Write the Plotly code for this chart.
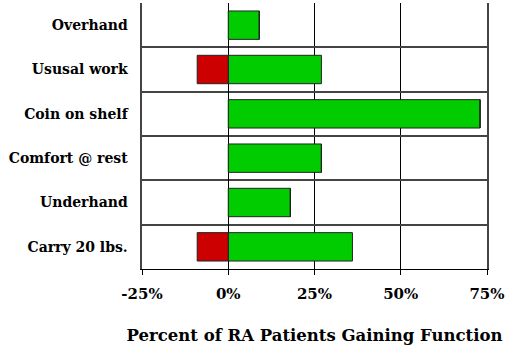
import plotly.graph_objects as go

categories = ["Overhand", "Ususal work", "Coin on shelf", "Comfort @ rest", "Underhand", "Carry 20 lbs."]
gain = [9, 27, 73, 27, 18, 36]
loss = [0, -9, 0, 0, 0, -9]
tick_vals = [-25, 0, 25, 50, 75]
tick_text = ["-25%", "0%", "25%", "50%", "75%"]

font_fam = "DejaVu Serif"

fig = go.Figure()
fig.add_trace(go.Bar(y=categories, x=gain, orientation="h", width=0.64,
                     marker=dict(color="#00CC00", line=dict(color="#222222", width=1))))
fig.add_trace(go.Bar(y=categories, x=loss, orientation="h", width=0.64,
                     marker=dict(color="#CC0000", line=dict(color="#222222", width=1))))

fig.update_layout(
    width=512, height=350,
    margin=dict(l=142, r=25, t=3, b=81),
    barmode="relative",
    showlegend=False,
    plot_bgcolor="white", paper_bgcolor="white",
    font=dict(family=font_fam, color="black"),
    xaxis=dict(range=[-25, 75], tickvals=tick_vals, ticktext=tick_text,
               showgrid=True, gridcolor="black", gridwidth=1,
               zeroline=True, zerolinecolor="black", zerolinewidth=1,
               showline=True, linecolor="black", linewidth=1,
               ticks="outside", ticklen=5, tickcolor="black",
               ticklabelstandoff=6, automargin=False,
               tickfont=dict(size=15, family=font_fam, weight="bold"),
               title=dict(text="<b>Percent of RA Patients Gaining Function</b>",
                          font=dict(size=16.5, family=font_fam), standoff=27)),
    yaxis=dict(type="category", autorange="reversed", tickson="boundaries",
               showgrid=True, gridcolor="#444444", gridwidth=1.5,
               showline=True, mirror=True, linecolor="#444444", linewidth=1.5,
               ticks="", ticksuffix="\u00a0\u00a0", automargin=False,
               tickfont=dict(size=14, family=font_fam, weight="bold")),
)

fig.write_html("out.html")
